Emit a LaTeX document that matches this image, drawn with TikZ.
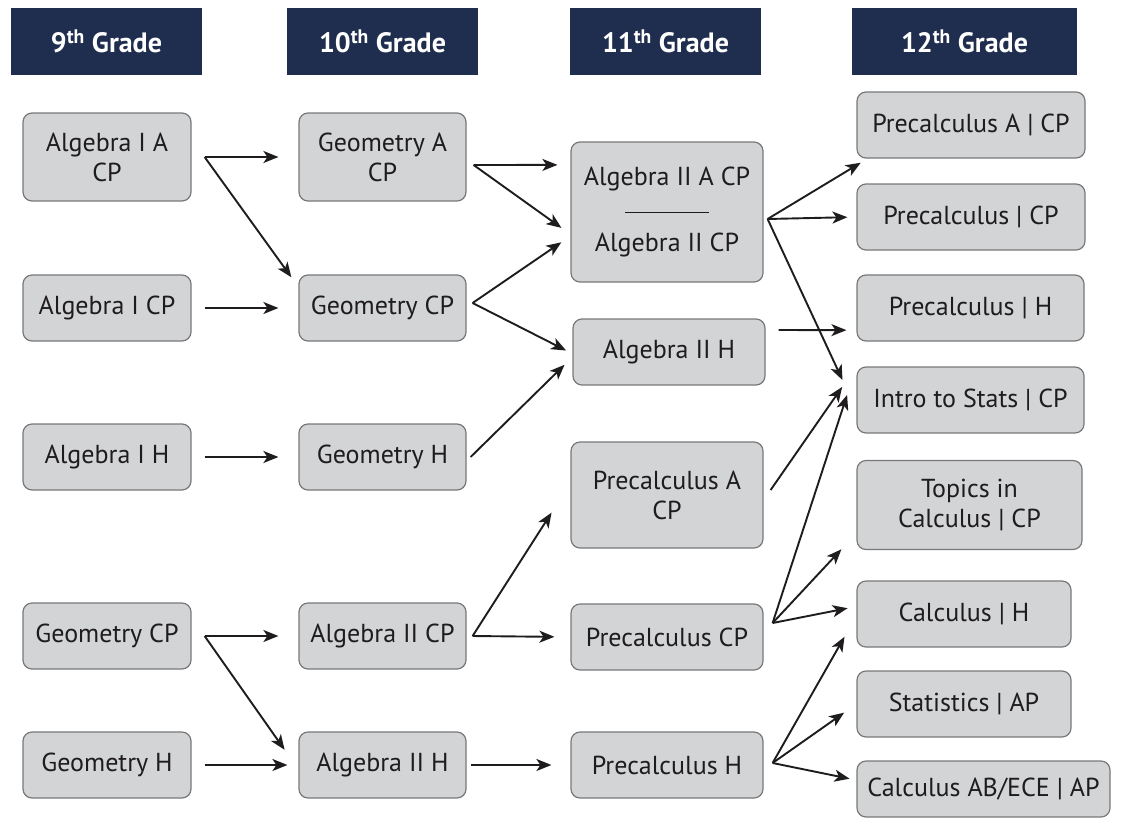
\documentclass[tikz,border=0pt]{standalone}
\usepackage{fontspec}
\setmainfont{PT Sans}
\usetikzlibrary{arrows.meta}
\definecolor{navy}{RGB}{31,45,78}
\definecolor{boxgray}{RGB}{211,212,214}
\definecolor{edgegray}{RGB}{120,120,122}
\definecolor{ink}{RGB}{30,28,28}

\begin{document}
\begin{tikzpicture}[x=1pt,y=-1pt,
	grade/.style={fill=navy,text=white,font=\fontsize{28}{32}\selectfont\bfseries,inner sep=0,minimum height=67pt},
	course/.style={draw=edgegray,line width=1.2pt,fill=boxgray,rounded corners=9pt,text=ink,font=\fontsize{26}{30}\selectfont,align=center,inner sep=0,minimum height=66pt},
	link/.style={draw=ink,line width=1.9pt,-{Stealth[length=15pt,width=12pt,inset=4pt]}}]
	\useasboundingbox (0,0) rectangle (1123,819);

	\node[grade,minimum width=191pt] (h9) at (106.5,41.5) {9\textsuperscript{th} Grade};
	\node[grade,minimum width=191pt] (h10) at (382.5,41.5) {10\textsuperscript{th} Grade};
	\node[grade,minimum width=191pt] (h11) at (665.5,41.5) {11\textsuperscript{th} Grade};
	\node[grade,minimum width=225pt] (h12) at (964.5,41.5) {12\textsuperscript{th} Grade};

	\node[course,minimum width=168pt,minimum height=88pt] (91) at (107,157) {Algebra I A\\CP};
	\node[course,minimum width=168pt] (92) at (107,308) {Algebra I CP};
	\node[course,minimum width=168pt] (93) at (107,457) {Algebra I H};
	\node[course,minimum width=168pt] (94) at (107,636) {Geometry CP};
	\node[course,minimum width=168pt] (95) at (107,765) {Geometry H};

	\node[course,minimum width=167pt,minimum height=88pt] (101) at (382.5,157) {Geometry A\\CP};
	\node[course,minimum width=167pt] (102) at (382.5,308) {Geometry CP};
	\node[course,minimum width=167pt] (103) at (382.5,457) {Geometry H};
	\node[course,minimum width=167pt] (104) at (382.5,636) {Algebra II CP};
	\node[course,minimum width=167pt] (105) at (382.5,765) {Algebra II H};

	\node[course,minimum width=192pt,minimum height=140pt] (111) at (667,212) {Algebra II A CP\\[36pt]Algebra II CP};
	\node[course,minimum width=192pt] (112) at (669,352) {Algebra II H};
	\node[course,minimum width=192pt,minimum height=106pt] (113) at (667,495) {Precalculus A\\CP};
	\node[course,minimum width=192pt] (114) at (667,637) {Precalculus CP};
	\node[course,minimum width=192pt] (115) at (667,765) {Precalculus H};
	\draw[ink,line width=1pt] ([xshift=-42pt]111.center) -- ([xshift=42pt]111.center);

	\node[course,minimum width=228pt] (121) at (971,125) {Precalculus A | CP};
	\node[course,minimum width=228pt] (122) at (971,217) {Precalculus | CP};
	\node[course,minimum width=227pt] (123) at (970.5,308) {Precalculus | H};
	\node[course,minimum width=227pt] (124) at (970.5,400) {Intro to Stats | CP};
	\node[course,minimum width=225pt,minimum height=89pt] (125) at (969.5,505) {Topics in\\Calculus | CP};
	\node[course,minimum width=214pt] (126) at (964,614) {Calculus | H};
	\node[course,minimum width=214pt] (127) at (964,704) {Statistics | AP};
	\node[course,minimum width=253pt,minimum height=56pt] (128) at (983.5,789) {Calculus AB/ECE | AP};

	\coordinate (91r) at ([xshift=13pt]91.east);
	\coordinate (92r) at ([xshift=13pt]92.east);
	\coordinate (93r) at ([xshift=13pt]93.east);
	\coordinate (94r) at ([xshift=13pt]94.east);
	\coordinate (95r) at ([xshift=13pt]95.east);
	\coordinate (101r) at ([xshift=7pt,yshift=-8pt]101.east);
	\coordinate (102r) at ([xshift=6pt,yshift=5pt]102.east);
	\coordinate (103r) at ([xshift=4pt]103.east);
	\coordinate (104r) at ([xshift=6pt]104.east);
	\coordinate (105r) at ([xshift=4pt]105.east);
	\coordinate (111r) at ([xshift=4pt,yshift=-7pt]111.east);
	\coordinate (112r) at ([xshift=13pt,yshift=22pt]112.east);
	\coordinate (113r) at ([xshift=7pt,yshift=5pt]113.east);
	\coordinate (114r) at ([xshift=9pt,yshift=14pt]114.east);
	\coordinate (115r) at ([xshift=9pt,yshift=2pt]115.east);

	\draw[link,shorten >=20pt] (91r) -- (101.west);
	\draw[link,shorten >=12pt] (91r) -- (102.166);
	\draw[link,shorten >=20pt] (92r) -- (102.west);
	\draw[link,shorten >=20pt] (93r) -- (103.west);
	\draw[link,shorten >=20pt] (94r) -- (104.west);
	\draw[link,shorten >=24pt] (94r) -- (105.183);
	\draw[link,shorten >=11pt] (95r) -- (105.west);

	\draw[link,shorten >=13pt] (101r) -- (111.154);
	\draw[link,shorten >=11pt] (101r) -- (111.193);
	\draw[link,shorten >=11pt] (102r) -- (111.194);
	\draw[link,shorten >=7pt] (102r) -- (112.181);
	\draw[link,shorten >=11pt] (103r) -- (112.183);
	\draw[link,shorten >=35pt] (104r) -- (113.173);
	\draw[link,shorten >=16pt] (104r) -- (114.west);
	\draw[link,shorten >=19pt] (105r) -- (115.west);

	\draw[link,shorten >=8pt] (111r) -- (121.198);
	\draw[link,shorten >=9pt] (111r) -- (122.west);
	\draw[link,shorten >=33pt] (111r) -- (124.185);
	\draw[link,shorten >=10pt] (112r) -- (123.191);
	\draw[link,shorten >=25pt] (113r) -- (124.north west);
	\draw[link,shorten >=30pt] (114r) -- (124.north west);
	\draw[link,shorten >=22pt] (114r) -- (125.194);
	\draw[link,shorten >=9pt] (114r) -- (126.176);
	\draw[link,shorten >=24pt] (115r) -- (126.181);
	\draw[link,shorten >=15pt] (115r) -- (127.west);
	\draw[link,shorten >=7pt] (115r) -- (128.176);
\end{tikzpicture}
\end{document}
